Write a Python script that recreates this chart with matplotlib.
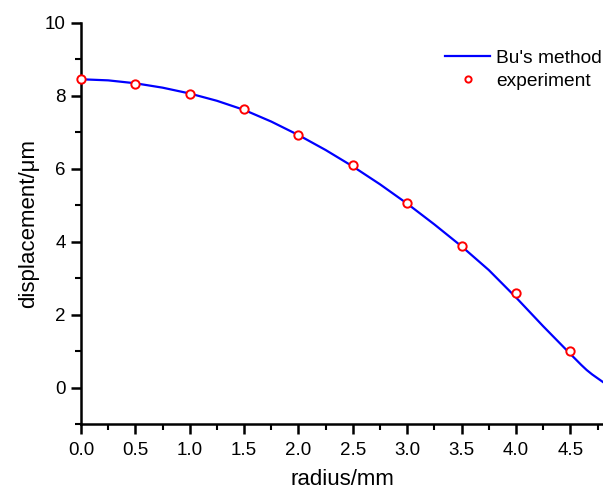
import matplotlib.pyplot as plt
from matplotlib.ticker import MultipleLocator

plt.rcParams['font.family'] = ['Liberation Sans', 'DejaVu Sans']

# Bu's method curve (radius in mm, displacement in um)
r_model = [0.0, 0.25, 0.5, 0.75, 1.0, 1.25, 1.5, 1.75, 2.0, 2.25, 2.5, 2.75,
           3.0, 3.25, 3.5, 3.75, 4.0, 4.25, 4.5, 4.6, 4.65, 4.7, 4.8]
d_model = [8.45, 8.42, 8.34, 8.22, 8.06, 7.86, 7.61, 7.29, 6.92, 6.51, 6.06, 5.57,
           5.04, 4.47, 3.87, 3.22, 2.47, 1.68, 0.92, 0.62, 0.48, 0.36, 0.15]

# measured points
r_exp = [0.0, 0.5, 1.0, 1.5, 2.0, 2.5, 3.0, 3.5, 4.0, 4.5]
d_exp = [8.45, 8.32, 8.04, 7.63, 6.91, 6.1, 5.06, 3.89, 2.59, 1.0]

fig = plt.figure(figsize=(6.03, 4.95), dpi=100)
ax = fig.add_axes([0.1343, 0.1434, 0.8657, 0.8107])

ax.plot(r_model, d_model, color='blue', lw=1.6, label="Bu's method", zorder=2)
ax.plot(r_exp, d_exp, 'o', ms=6, mfc='white', mec='red', mew=1.4,
        label='experiment', zorder=3, clip_on=False)

ax.set_xlim(0, 4.8)
ax.set_ylim(-1, 10)
ax.xaxis.set_minor_locator(MultipleLocator(0.25))
ax.yaxis.set_minor_locator(MultipleLocator(1))
ax.set_xticks([0, 0.5, 1.0, 1.5, 2.0, 2.5, 3.0, 3.5, 4.0, 4.5])
ax.set_yticks([0, 2, 4, 6, 8, 10])

for side in ['top', 'right']:
    ax.spines[side].set_visible(False)
for side in ['left', 'bottom']:
    ax.spines[side].set_linewidth(1.8)

ax.tick_params(which='major', direction='out', length=7, width=1.8, labelsize=13.5)
ax.tick_params(which='minor', direction='out', length=4, width=1.5)
ax.tick_params(axis='x', which='major', pad=6)
ax.tick_params(axis='y', which='major', pad=4)

ax.set_xlabel('radius/mm', fontsize=16, labelpad=7)
ax.set_ylabel('displacement/μm', fontsize=16, labelpad=4)

fig.legend(loc='upper left', bbox_to_anchor=(0.71, 0.935), frameon=False,
           fontsize=13.8, handlelength=2.35, handletextpad=0.3,
           labelspacing=0.28, numpoints=1, markerscale=0.75)

fig.savefig('out.png', dpi=100)
